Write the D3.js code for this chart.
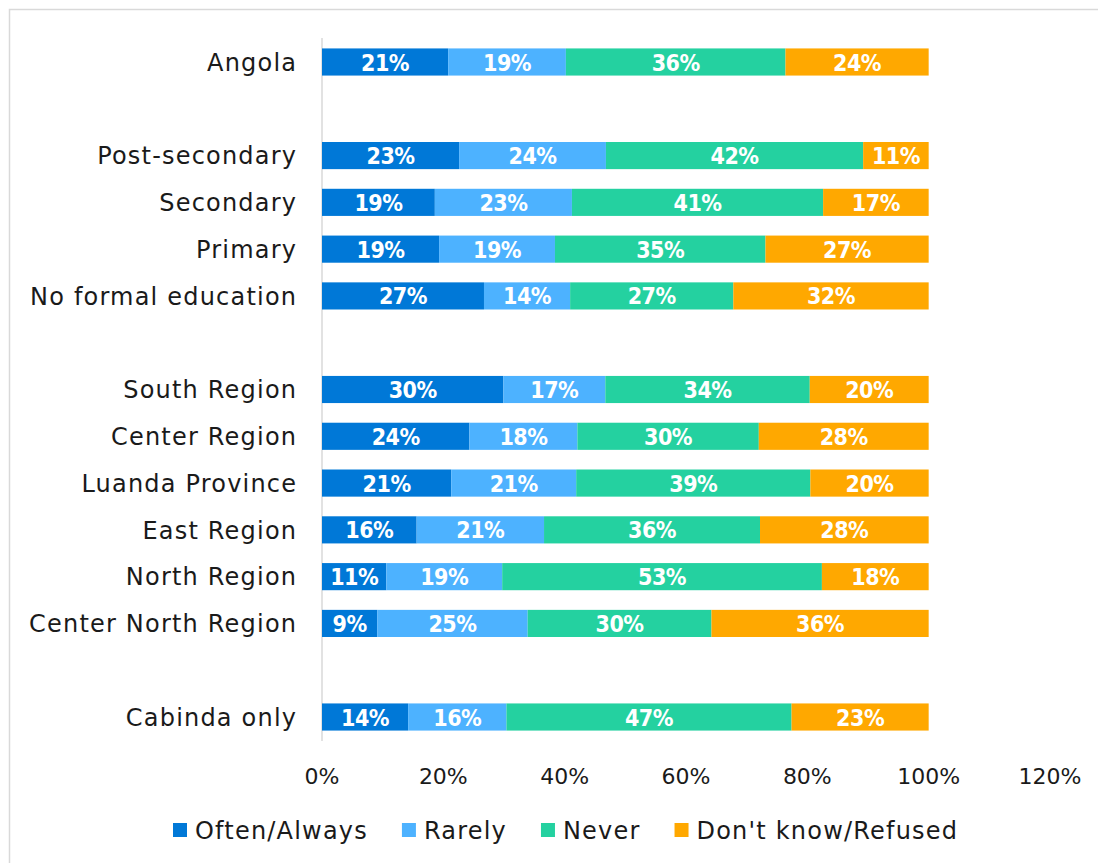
<!DOCTYPE html>
<html>
<head>
<meta charset="utf-8">
<script src="https://cdn.jsdelivr.net/npm/d3@7"></script>
<style>
  html, body { margin: 0; padding: 0; background: #fff; }
  svg { display: block; }
</style>
</head>
<body>
<svg id="chart" width="1098" height="863"></svg>
<script>
// ---- Data ----
const categories = [
  "Angola", "gap1",
  "Post-secondary", "Secondary", "Primary", "No formal education", "gap2",
  "South Region", "Center Region", "Luanda Province", "East Region", "North Region", "Center North Region", "gap3",
  "Cabinda only"
];
const seriesNames = ["Often/Always", "Rarely", "Never", "Don't know/Refused"];
const seriesColors = ["#0078d7", "#4db2ff", "#24d1a0", "#ffa800"];
const oftenAlways = { "Angola": 20.8, "Post-secondary": 22.6, "Secondary": 18.6, "Primary": 19.3, "No formal education": 26.7, "South Region": 29.9, "Center Region": 24.3, "Luanda Province": 21.3, "East Region": 15.6, "North Region": 10.6, "Center North Region": 9.1, "Cabinda only": 14.2 };
const rarely      = { "Angola": 19.4, "Post-secondary": 24.2, "Secondary": 22.6, "Primary": 19.1, "No formal education": 14.2, "South Region": 16.8, "Center Region": 17.8, "Luanda Province": 20.6, "East Region": 21.0, "North Region": 19.1, "Center North Region": 24.8, "Cabinda only": 16.2 };
const never       = { "Angola": 36.2, "Post-secondary": 42.4, "Secondary": 41.4, "Primary": 34.7, "No formal education": 26.9, "South Region": 33.7, "Center Region": 29.9, "Luanda Province": 38.6, "East Region": 35.6, "North Region": 52.7, "Center North Region": 30.3, "Cabinda only": 47.0 };
const dontKnow    = { "Angola": 23.6, "Post-secondary": 10.8, "Secondary": 17.4, "Primary": 26.9, "No formal education": 32.2, "South Region": 19.6, "Center Region": 28.0, "Luanda Province": 19.5, "East Region": 27.8, "North Region": 17.6, "Center North Region": 35.8, "Cabinda only": 22.6 };
const xTicks = [0, 20, 40, 60, 80, 100, 120];

// ---- Build table ----
const seriesData = [oftenAlways, rarely, never, dontKnow];
const rows = categories.filter(c => !c.startsWith("gap")).map(c => {
  const r = { cat: c };
  seriesNames.forEach((s, i) => r[s] = seriesData[i][c]);
  return r;
});
const stacked = d3.stack().keys(seriesNames)(rows);

// ---- Layout ----
const svg = d3.select("#chart");
const fontFam = "'DejaVu Sans', 'Century Gothic', sans-serif";
const ls = 1.2; // letter spacing

// outer border
svg.append("rect").attr("x", 9.5).attr("y", 9.5).attr("width", 1100).attr("height", 900)
  .attr("fill", "none").attr("stroke", "#d9d9d9").attr("stroke-width", 1.5);

const x = d3.scaleLinear().domain([0, 120]).range([322, 1050]);
const y = d3.scaleBand().domain(categories).range([38.6, 740.4]).paddingInner(0.42).paddingOuter(0.21);

// axis line
svg.append("line").attr("x1", x(0)).attr("x2", x(0)).attr("y1", 38).attr("y2", 741)
  .attr("stroke", "#d9d9d9").attr("stroke-width", 1.5);

// bars
const g = svg.append("g");
stacked.forEach((layer, i) => {
  const lg = g.append("g").attr("fill", seriesColors[i]);
  lg.selectAll("rect").data(layer).join("rect")
    .attr("x", d => x(d[0]))
    .attr("y", d => y(d.data.cat))
    .attr("width", d => x(d[1]) - x(d[0]))
    .attr("height", y.bandwidth());
  lg.selectAll("text").data(layer).join("text")
    .attr("x", d => (x(d[0]) + x(d[1])) / 2)
    .attr("y", d => y(d.data.cat) + y.bandwidth() / 2)
    .attr("dy", "0.37em")
    .attr("text-anchor", "middle")
    .attr("fill", "#ffffff")
    .attr("font-family", "'DejaVu Sans Condensed', 'DejaVu Sans', sans-serif")
    .attr("font-weight", "bold")
    .attr("font-size", 23)
    .attr("letter-spacing", -0.5)
    .text(d => Math.round(d[1] - d[0]) + "%");
});

// category labels
svg.append("g").selectAll("text")
  .data(categories.filter(c => !c.startsWith("gap")))
  .join("text")
  .attr("x", 296 + ls)
  .attr("y", d => y(d) + y.bandwidth() / 2)
  .attr("dy", "0.36em")
  .attr("text-anchor", "end")
  .attr("fill", "#1a1a1a")
  .attr("font-family", fontFam)
  .attr("font-size", 24)
  .attr("letter-spacing", ls)
  .text(d => d);

// x tick labels
svg.append("g").selectAll("text").data(xTicks).join("text")
  .attr("x", d => x(d))
  .attr("y", 776)
  .attr("dy", "0.36em")
  .attr("text-anchor", "middle")
  .attr("fill", "#1a1a1a")
  .attr("font-family", fontFam)
  .attr("font-size", 22)
  .text(d => d + "%");

// legend
const legend = svg.append("g");
let lx = 173;
seriesNames.forEach((s, i) => {
  const item = legend.append("g").attr("transform", `translate(${lx},0)`);
  item.append("rect").attr("x", 0).attr("y", 823).attr("width", 14).attr("height", 14).attr("fill", seriesColors[i]);
  const t = item.append("text").attr("x", 22).attr("y", 830).attr("dy", "0.36em")
    .attr("fill", "#1a1a1a").attr("font-family", fontFam).attr("font-size", 24)
    .attr("letter-spacing", ls).text(s);
  lx += 22 + t.node().getComputedTextLength() + 34;
});
</script>
</body>
</html>
